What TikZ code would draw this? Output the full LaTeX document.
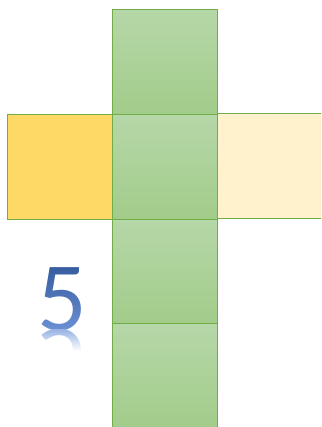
\documentclass[tikz,border=0pt]{standalone}
\usepackage{fontspec}
\setmainfont{Carlito}
\usetikzlibrary{fadings}
\definecolor{gbord}{HTML}{70AD47}
\definecolor{gtop}{HTML}{B6D7A8}
\definecolor{gbot}{HTML}{A2CC8A}
\definecolor{yfill}{HTML}{FFD966}
\definecolor{cfill}{HTML}{FFF2CC}
\definecolor{btop}{HTML}{2F5597}
\definecolor{bbot}{HTML}{7096DA}
\begin{tikzfadingfrompicture}[name=fivefade]
  \node[text=transparent!0, inner sep=0pt, font=\fontsize{98}{98}\selectfont] at (0,0) {5};
\end{tikzfadingfrompicture}
\begin{tikzfadingfrompicture}[name=fivereflect]
  \node[text=transparent!0, inner sep=0pt, yscale=-1, font=\fontsize{98}{98}\selectfont] at (0,0) {5};
\end{tikzfadingfrompicture}
\tikzset{
  sqbase/.style={draw=gbord, line width=1.3pt, minimum width=105pt, minimum height=105pt, inner sep=0pt, anchor=north west},
  greensq/.style={sqbase, top color=gtop, bottom color=gbot},
  yelsq/.style={sqbase, fill=yfill},
  creamsq/.style={sqbase, fill=cfill},
}
\begin{document}
\begin{tikzpicture}[x=1pt,y=1pt]
  \useasboundingbox (0,0) rectangle (321,427);
  \begin{scope}
  \clip (0,0) rectangle (321,427);
  \node[greensq] (g1) at (112,418) {};
  \node[greensq] (g3) at (112,209) {};
  \node[greensq] (g4) at (112,104) {};
  \node[yelsq] (y) at (7,313) {};
  \node[creamsq] (c) at (217,314) {};
  \node[greensq] (g2) at (112,313) {};
  \end{scope}
  % digit 5 with gradient
  \path[path fading=fivefade, fit fading=false, fading transform={shift={(62,128)}}, top color=btop, bottom color=bbot]
    (20,90) rectangle (104,170);
  % reflection
  \path[path fading=fivereflect, fit fading=false, fading transform={shift={(62,66)}}, top color=bbot!70, bottom color=white]
    (20,76) rectangle (104,97);
\end{tikzpicture}
\end{document}
